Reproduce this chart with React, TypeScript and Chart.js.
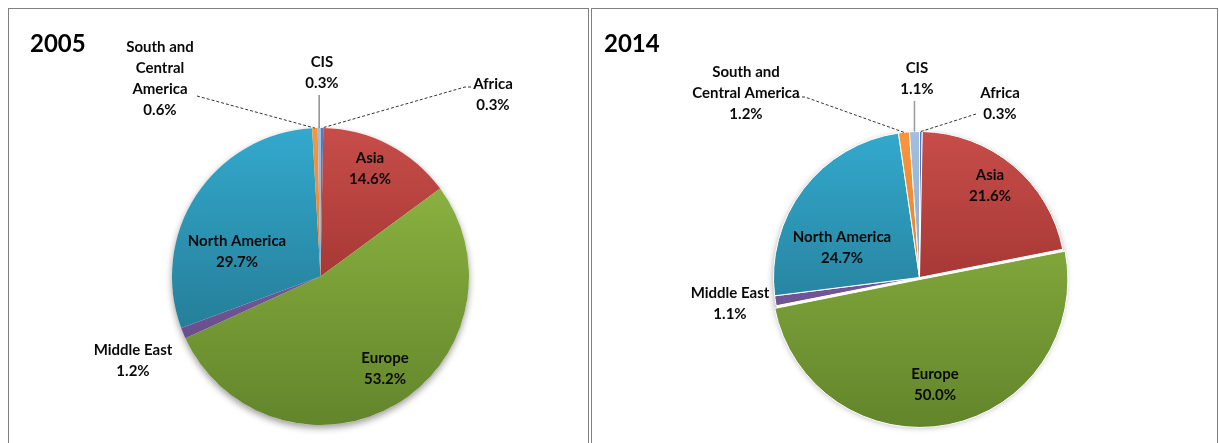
import React, { useEffect, useRef } from "react";
import { Chart, PieController, ArcElement } from "chart.js";

Chart.register(PieController, ArcElement);

// ---------------- data ----------------
const regions = ["Africa", "Asia", "Europe", "Middle East", "North America", "South and Central America", "CIS"];
const share2005 = [0.3, 14.6, 53.2, 1.2, 29.7, 0.6, 0.3];
const share2014 = [0.3, 21.6, 50.0, 1.1, 24.7, 1.2, 1.1];
const yearTitles = ["2005", "2014"];

// ---------------- style ----------------
const topColors = ["#4F7FC0", "#C74D49", "#93BC45", "#8A6AAE", "#33A9CD", "#F8963F", "#A2BEE0"];
const bottomColors = ["#3A5F8C", "#882422", "#63852B", "#5C4380", "#1E6A80", "#CF6D1C", "#7A97BC"];
const FONT = "Lato, 'Open Sans', sans-serif";
const LINE_H = 21;

type Leader = { kind: "dash" | "solid"; pts: [number, number][]; vertical?: boolean; color?: string; width?: number };
type LabelStyle = { lines: string[]; dx: number; dy: number; leader?: Leader };

const labels2005: LabelStyle[] = [
  { lines: ["Africa"], dx: 172.5, dy: -192.5, leader: { kind: "dash", pts: [[150.5, -189.5], [144.5, -189.5]] } },
  { lines: ["Asia"], dx: 49.5, dy: -118.5 },
  { lines: ["Europe"], dx: 64.5, dy: 81.5 },
  { lines: ["Middle East"], dx: -187.5, dy: 73.5 },
  { lines: ["North America"], dx: -83.5, dy: -35.5 },
  { lines: ["South and", "Central", "America"], dx: -160.5, dy: -229.5, leader: { kind: "dash", pts: [[-123.5, -180.5]] } },
  { lines: ["CIS"], dx: 1.5, dy: -214.5, leader: { kind: "solid", pts: [[0, -181.5]], vertical: true, color: "#555", width: 1 } },
];

const labels2014: LabelStyle[] = [
  { lines: ["Africa"], dx: 80.5, dy: -184.5, leader: { kind: "dash", pts: [[56.5, -163.5]] } },
  { lines: ["Asia"], dx: 70.5, dy: -102.5 },
  { lines: ["Europe"], dx: 15.5, dy: 96.5 },
  { lines: ["Middle East"], dx: -189.5, dy: 15.5 },
  { lines: ["North America"], dx: -77.5, dy: -40.5 },
  { lines: ["South and", "Central America"], dx: -173.5, dy: -205.5, leader: { kind: "dash", pts: [[-122.5, -180.5], [-114.5, -180.5]] } },
  { lines: ["CIS"], dx: -2.5, dy: -209.5, leader: { kind: "solid", pts: [[0, -176.5]], vertical: true, color: "#9a9a9a", width: 1.5 } },
];

const pieLabelPlugin = {
  id: "pieLabels",
  beforeDatasetsDraw(chart: any) {
    const meta = chart.getDatasetMeta(0);
    const el = meta.data[0];
    if (!el) return;
    const ctx = chart.ctx;
    ctx.save();
    ctx.shadowColor = "rgba(0,0,0,0.4)";
    ctx.shadowBlur = 7;
    ctx.shadowOffsetY = 3;
    ctx.fillStyle = "#ffffff";
    ctx.beginPath();
    ctx.arc(el.x, el.y, el.outerRadius, 0, Math.PI * 2);
    ctx.fill();
    ctx.restore();
  },
  afterDatasetsDraw(chart: any, _a: any, opts: any) {
    const ctx = chart.ctx;
    const meta = chart.getDatasetMeta(0);
    const values: number[] = chart.data.datasets[0].data;
    const labels: LabelStyle[] = opts.labels || [];
    ctx.save();
    labels.forEach((lab, i) => {
      const arc = meta.data[i];
      if (!arc) return;
      const cx = arc.x;
      const cy = arc.y;
      const mid = (arc.startAngle + arc.endAngle) / 2;
      const ex = cx + Math.cos(mid) * arc.outerRadius;
      const ey = cy + Math.sin(mid) * arc.outerRadius;
      if (lab.leader) {
        const L = lab.leader;
        ctx.beginPath();
        ctx.strokeStyle = L.color || "#333";
        ctx.lineWidth = L.width || 1;
        ctx.setLineDash(L.kind === "dash" ? [3, 2] : []);
        L.pts.forEach((p, k) => {
          const px = L.vertical ? ex : cx + p[0];
          const py = cy + p[1];
          if (k === 0) ctx.moveTo(px, py);
          else ctx.lineTo(px, py);
        });
        ctx.lineTo(ex, ey);
        ctx.stroke();
        ctx.setLineDash([]);
      }
      const lines = [...lab.lines, values[i].toFixed(1) + "%"];
      ctx.fillStyle = "#0a0a0a";
      ctx.font = `bold 15px ${FONT}`;
      ctx.textAlign = "center";
      ctx.textBaseline = "middle";
      lines.forEach((t, k) => {
        ctx.fillText(t, cx + lab.dx, cy + lab.dy + k * LINE_H);
      });
    });
    if (opts.title) {
      ctx.font = `bold 24px ${FONT}`;
      ctx.textAlign = "left";
      ctx.textBaseline = "middle";
      ctx.fillStyle = "#000";
      ctx.fillText(opts.title, opts.titleX, opts.titleY);
    }
    ctx.restore();
  },
};

type PanelCfg = {
  values: number[];
  labels: LabelStyle[];
  title: string;
  radius: number;
  borderWidth: number;
  offsets: number[];
  padding: { left: number; right: number; top: number; bottom: number };
  width: number;
  height: number;
};

function PiePanel({ cfg }: { cfg: PanelCfg }) {
  const ref = useRef<HTMLCanvasElement | null>(null);
  useEffect(() => {
    if (!ref.current) return;
    const r = cfg.radius;
    const fill = (c: any) => {
      const i = c.dataIndex;
      const a = c.chart.chartArea;
      if (!a) return topColors[i];
      const cy = (a.top + a.bottom) / 2;
      const g = c.chart.ctx.createLinearGradient(0, cy - r, 0, cy + r);
      g.addColorStop(0, topColors[i]);
      g.addColorStop(1, bottomColors[i]);
      return g;
    };
    const chart = new Chart(ref.current, {
      type: "pie",
      data: {
        labels: regions,
        datasets: [
          {
            data: cfg.values,
            backgroundColor: fill as any,
            borderColor: "#ffffff",
            borderWidth: cfg.borderWidth,
            offset: cfg.offsets,
            hoverOffset: 0,
            clip: false as any,
          } as any,
        ],
      },
      options: {
        animation: false,
        responsive: false,
        radius: r,
        rotation: 0,
        layout: { padding: cfg.padding },
        plugins: {
          legend: { display: false },
          tooltip: { enabled: false },
          pieLabels: { labels: cfg.labels, title: cfg.title, titleX: cfg.title === "2005" ? 21 : 12, titleY: 35 },
        } as any,
        events: [],
      } as any,
      plugins: [pieLabelPlugin as any],
    });
    return () => chart.destroy();
  }, [cfg]);
  return <canvas ref={ref} width={cfg.width} height={cfg.height} style={{ display: "block", width: cfg.width, height: cfg.height }} />;
}

const panel1: PanelCfg = {
  values: share2005,
  labels: labels2005,
  title: yearTitles[0],
  radius: 148.5,
  borderWidth: 0,
  offsets: [0, 0, 0, 0, 0, 0, 0],
  padding: { left: 161.5, right: 117.5, top: 117.5, bottom: 16.5 },
  width: 579,
  height: 434,
};

const panel2: PanelCfg = {
  values: share2014,
  labels: labels2014,
  title: yearTitles[1],
  radius: 146,
  borderWidth: 1,
  offsets: [0, 0, 8, 0, 0, 0, 0],
  padding: { left: 177.5, right: 147.5, top: 118.5, bottom: 15.5 },
  width: 625,
  height: 434,
};

export default function App() {
  return (
    <div style={{ position: "fixed", left: 0, top: 0, width: 1219, height: 443, overflow: "hidden", background: "#fff" }}>
      <div style={{ position: "absolute", left: 8, top: 8, width: 579, height: 500, border: "1px solid #808080" }}>
        <PiePanel cfg={panel1} />
      </div>
      <div style={{ position: "absolute", left: 591, top: 8, width: 625, height: 500, border: "1px solid #808080" }}>
        <PiePanel cfg={panel2} />
      </div>
    </div>
  );
}
